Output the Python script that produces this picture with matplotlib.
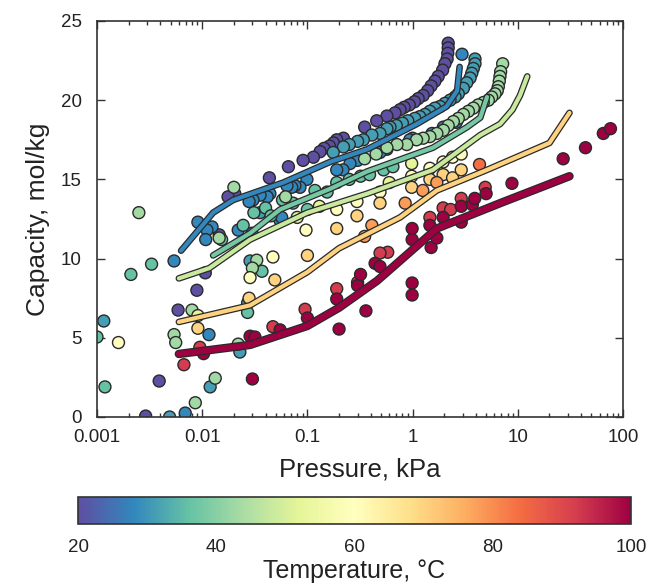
import numpy as np
import matplotlib.pyplot as plt
import matplotlib.patheffects as pe
from matplotlib.colors import Normalize

plt.rcParams['font.family'] = ['Liberation Sans', 'DejaVu Sans']

# measured isotherms: pressure (kPa), capacity (mol/kg), one pair per temperature
p_20 = [2.18, 2.18, 2.16, 2.13, 2.03, 1.93, 1.75, 1.63, 1.50, 1.39, 1.26, 1.13, 1.04, 0.93,
        0.83, 0.76, 0.68, 0.57, 0.456, 0.35, 0.22, 0.19, 0.177, 0.162, 0.144, 0.132, 0.114,
        0.091, 0.066, 0.0435, 0.0204, 0.0176, 0.0145, 0.0107, 0.0089, 0.0059, 0.0039, 0.0029]
q_20 = [23.6, 23.3, 22.96, 22.6, 22.3, 21.9, 21.5, 21.2, 20.9, 20.6, 20.3, 20.1, 19.9, 19.7,
        19.55, 19.4, 19.2, 19.0, 18.7, 18.3, 17.6, 17.5, 17.3, 17.1, 16.96, 16.75, 16.4,
        16.2, 15.8, 15.1, 14.1, 13.9, 11.5, 9.1, 8.0, 6.75, 2.27, 0.06]

p_28 = [2.95, 2.6, 1.96, 1.53, 1.0, 0.94, 0.57, 0.49, 0.30, 0.254, 0.218, 0.19, 0.099, 0.085,
        0.076, 0.071, 0.064, 0.055, 0.057, 0.044, 0.0415, 0.0355, 0.0304, 0.0297, 0.022,
        0.0279, 0.0124, 0.0111, 0.0108, 0.0091, 0.0116, 0.0069, 0.0054]
q_28 = [22.9, 18.6, 18.3, 17.9, 17.6, 17.5, 16.9, 16.7, 16.2, 16.0, 15.6, 15.6, 15.0, 14.5,
        14.6, 14.5, 14.6, 12.4, 12.6, 14.1, 13.9, 14.0, 13.7, 11.6, 11.8,
        13.6, 12.0, 11.8, 11.2, 12.3, 5.2, 0.25, 9.85]

p_31 = [3.92, 3.92, 3.78, 3.65, 3.52, 3.27, 3.04, 2.72, 2.53, 2.27, 2.03, 1.82, 1.63, 1.46,
        1.31, 1.17, 1.05, 0.9, 0.8, 0.7, 0.61, 0.57, 0.49, 0.41, 0.34, 0.30, 0.25, 0.22, 0.176,
        0.0285, 0.0355, 0.00116, 0.0119, 0.0049, 0.027, 0.0228]
q_31 = [22.6, 22.3, 22.0, 21.7, 21.4, 21.1, 20.75, 20.4, 20.2, 20.0, 19.8, 19.6, 19.5, 19.3,
        19.1, 18.96, 18.85, 18.7, 18.55, 18.4, 18.3, 18.2, 17.9, 17.8, 17.5, 17.4, 17.2, 17.05, 16.7,
        9.85, 12.9, 6.06, 1.9, 0.0, 7.2, 4.1]

p_36 = [0.0033, 0.0021, 0.001, 0.00119, 0.0245, 0.0153, 0.031, 0.037, 0.058, 0.073, 0.1,
        0.118, 0.154, 0.19, 0.25, 0.32, 0.39, 0.53, 0.65, 0.027, 0.04, 0.045]
q_36 = [9.65, 9.0, 5.05, 1.9, 12.1, 11.2, 12.9, 9.2, 13.7, 13.5, 13.1,
        14.3, 14.2, 14.8, 15.0, 15.2, 15.3, 15.6, 15.8, 6.6, 13.2, 12.7]

p_43 = [7.18, 6.87, 6.77, 6.67, 6.53, 6.38, 6.07, 5.64, 5.25, 4.7, 4.2, 3.78, 3.39, 3.04,
        2.72, 2.44, 2.18, 1.96, 1.7, 1.46, 1.26, 1.09, 0.88, 0.71, 0.57, 0.45, 0.35,
        0.0025, 0.0086, 0.0133, 0.0054, 0.0056, 0.008, 0.020, 0.0145, 0.033, 0.022, 0.03, 0.062]
q_43 = [22.3, 21.8, 21.5, 21.2, 20.85, 20.6, 20.4, 20.2, 20.0, 19.85, 19.7, 19.5, 19.3, 19.1,
        18.85, 18.65, 18.4, 18.1, 17.9, 17.7, 17.6, 17.5, 17.2, 17.2, 17.0, 16.6, 16.3,
        12.9, 0.9, 2.45, 5.2, 4.7, 6.75, 14.5, 11.3, 9.9, 4.6, 9.4, 13.9]

p_52 = [0.98, 0.6, 0.0091, 0.13, 0.08]
q_52 = [16.0, 14.8, 6.4, 13.3, 12.6]

p_60 = [0.0016, 0.0285, 0.097, 0.047, 0.19, 0.296, 0.49, 0.98, 1.46, 1.95, 2.4, 2.9]
q_60 = [4.7, 8.8, 11.8, 10.1, 13.1, 13.6, 14.2, 15.2, 15.7, 16.1, 16.4, 16.6]

p_70 = [0.0091, 0.0279, 0.049, 0.1, 0.19, 0.296, 0.49, 0.98, 1.46, 1.95, 2.4, 2.9]
q_70 = [5.6, 7.5, 8.65, 10.2, 11.9, 12.7, 13.5, 14.5, 15.0, 15.3, 15.1, 15.6]

p_78 = [0.41, 0.35, 0.85, 1.25, 1.7]
q_78 = [12.1, 11.4, 13.5, 14.3, 14.8]

p_84 = [4.3]
q_84 = [16.0]

p_92 = [0.0067, 0.0095, 0.19, 0.3, 0.58, 0.49, 1.46, 1.95, 2.3, 2.9, 4.9, 0.095, 0.047]
q_92 = [3.3, 4.4, 8.1, 8.5, 10.4, 10.35, 12.6, 13.2, 13.1, 13.8, 14.5, 6.8, 5.7]

p_100 = [0.0103, 0.0285, 0.0317, 0.055, 0.1, 0.03, 0.2, 0.36, 0.19, 0.3, 0.44, 0.49, 0.32,
         0.99, 0.99, 0.99, 0.99, 1.5, 1.7, 1.46, 1.95, 2.9, 2.9, 3.7, 3.9, 5.0, 8.8,
         27, 44, 65, 76]
q_100 = [4.0, 5.1, 5.05, 5.5, 6.25, 2.4, 5.55, 6.7, 7.45, 8.3, 9.7, 9.5, 9.0,
         8.46, 7.7, 11.9, 11.2, 10.7, 11.3, 12.1, 12.6, 13.3, 12.3, 13.4, 13.8, 14.1, 14.75,
         16.3, 17.0, 17.9, 18.2]

scatter_sets = [(20, p_20, q_20), (28, p_28, q_28), (31, p_31, q_31), (36, p_36, q_36),
                (43, p_43, q_43), (52, p_52, q_52), (60, p_60, q_60), (70, p_70, q_70),
                (78, p_78, q_78), (84, p_84, q_84), (92, p_92, q_92), (100, p_100, q_100)]

# model isotherms
fit_t = [28, 38, 48, 70, 100]
fit_p = [
    [0.0063, 0.0127, 0.0197, 0.059, 0.164, 0.37, 1.1, 2.1, 2.65, 2.8],
    [0.0127, 0.0285, 0.055, 0.164, 0.37, 1.56, 3.3, 4.4, 5.1],
    [0.006, 0.0117, 0.0285, 0.1, 0.37, 1.56, 4.4, 6.8, 8.9, 10.5, 12.3],
    [0.006, 0.0285, 0.1, 0.2, 0.76, 1.7, 5.1, 20, 31],
    [0.006, 0.0285, 0.1, 0.2, 0.46, 1.7, 6.8, 31],
]
fit_q = [
    [10.5, 12.9, 13.7, 14.8, 16.1, 16.9, 18.5, 19.6, 20.6, 22.1],
    [10.2, 11.6, 13.1, 14.4, 15.5, 17.0, 18.3, 18.9, 20.2],
    [8.75, 9.4, 11.2, 12.9, 14.1, 15.6, 17.8, 18.5, 19.4, 20.3, 21.5],
    [6.0, 7.05, 9.15, 10.65, 12.6, 14.3, 15.6, 17.3, 19.2],
    [3.98, 4.55, 5.75, 6.9, 8.6, 11.9, 13.5, 15.2],
]
fit_lw = [3.0, 3.0, 3.0, 3.0, 4.3]

cmap = plt.get_cmap('Spectral_r')
norm = Normalize(vmin=20, vmax=100)

fig = plt.figure(figsize=(6.48, 5.86), dpi=100)
ax = fig.add_axes([0.1497, 0.2884, 0.8117, 0.6758])

for t, p, q in scatter_sets:
    ax.scatter(p, q, c=[t] * len(p), cmap=cmap, norm=norm, s=74,
               edgecolors='#2a2a2a', linewidths=1.0, zorder=2)

for t, p, q, lw in zip(fit_t, fit_p, fit_q, fit_lw):
    ax.plot(p, q, color=cmap(norm(t)), lw=lw, zorder=3, solid_capstyle='round',
            path_effects=[pe.Stroke(linewidth=lw + 1.8, foreground='#2a2a2a'), pe.Normal()])

ax.set_xscale('log')
ax.set_xlim(0.001, 100)
ax.set_ylim(0, 25)
ax.set_yticks([0, 5, 10, 15, 20, 25])
ax.set_xticks([0.001, 0.01, 0.1, 1, 10, 100])
ax.set_xticklabels(['0.001', '0.01', '0.1', '1', '10', '100'])
ax.tick_params(which='both', direction='in', top=True, right=True,
               labelsize=13.5, colors='#333333', labelcolor='#222222')
ax.tick_params(axis='x', pad=9)
ax.tick_params(axis='y', pad=11)
ax.tick_params(which='major', length=6, width=1)
ax.tick_params(which='minor', length=3, width=1)
for s in ax.spines.values():
    s.set_color('#333333')
    s.set_linewidth(1.2)
ax.set_xlabel('Pressure, kPa', fontsize=18.5, color='#222222', labelpad=8)
ax.set_ylabel('Capacity, mol/kg', fontsize=19, color='#222222', labelpad=8)

cax = fig.add_axes([0.1204, 0.1058, 0.8534, 0.046])
sm = plt.cm.ScalarMappable(cmap=cmap, norm=norm)
cb = fig.colorbar(sm, cax=cax, orientation='horizontal')
cb.set_ticks([20, 40, 60, 80, 100])
cb.ax.tick_params(length=0, labelsize=13.5, labelcolor='#222222', pad=11)
cb.outline.set_edgecolor('#333333')
cb.outline.set_linewidth(1.2)
cb.set_label('Temperature, °C', fontsize=18, color='#222222', labelpad=2)

fig.savefig('out.png', dpi=100)
